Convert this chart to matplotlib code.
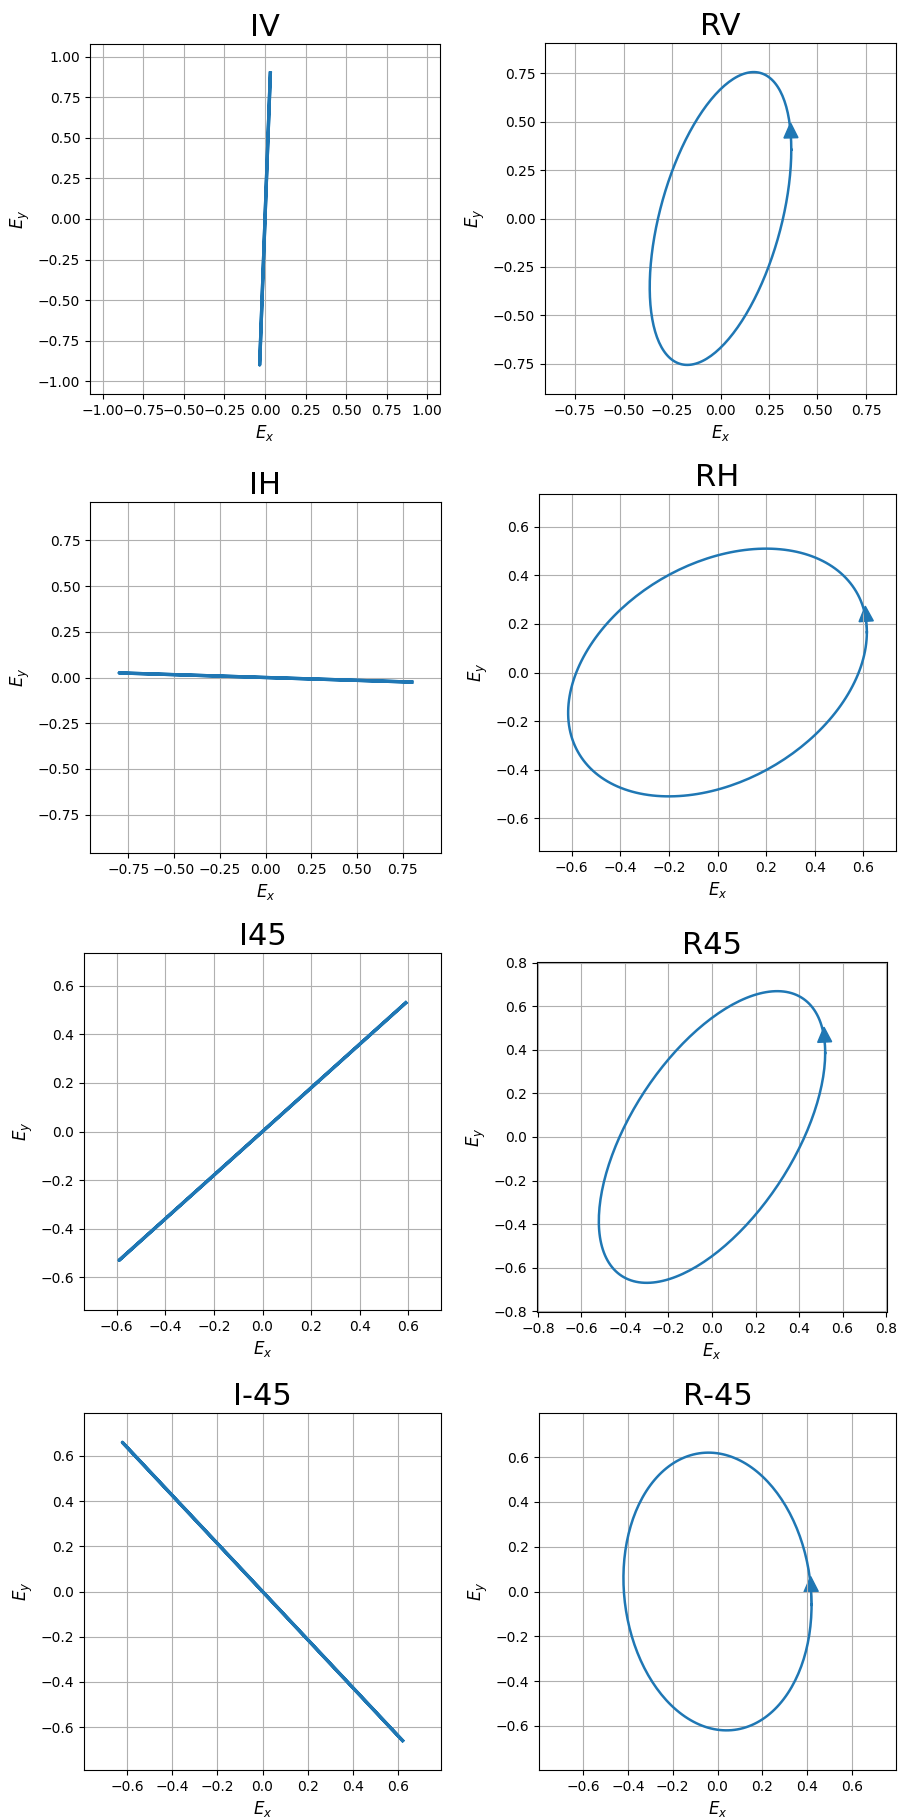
import numpy as np
import matplotlib.pyplot as plt
from matplotlib.ticker import MultipleLocator

# polarization states: amplitudes of Ex, Ey and relative phase (deg)
titles = ['IV', 'RV', 'IH', 'RH', 'I45', 'R45', 'I-45', 'R-45']
amp_x = [0.033, 0.365, 0.80, 0.615, 0.59, 0.52, 0.62, 0.42]
amp_y = [0.90, 0.755, 0.025, 0.51, 0.53, 0.67, 0.66, 0.62]
phase_deg = [0, 62, 180, 71, 0, 54.8, 180, 95.5]
lims = [1.08, 0.905, 0.96, 0.735, 0.735, 0.804, 0.79, 0.797]
tick_step = [0.25, 0.25, 0.25, 0.2, 0.2, 0.2, 0.2, 0.2]

# axes boxes in pixels: left, top, size
boxes = [(90, 44, 350), (545, 43, 351),
         (90, 502, 351), (539, 494, 357),
         (84, 953, 357), (537, 962, 350),
         (84, 1413, 357), (539, 1413, 357)]

W, H = 899, 1818
fig = plt.figure(figsize=(W / 100, H / 100), dpi=100)

t = np.linspace(0, 2 * np.pi, 200)
for i in range(len(titles)):
    left, top, size = boxes[i]
    ax = fig.add_axes([left / W, 1 - (top + size) / H, size / W, size / H])
    d = np.deg2rad(phase_deg[i])
    ex = amp_x[i] * np.cos(t)
    ey = amp_y[i] * np.cos(t - d)
    elliptic = abs(np.sin(d)) > 0.1
    ax.plot(ex, ey, color='C0', lw=1.8 if elliptic else 2.4)
    if elliptic:
        lim = lims[i]
        ax.arrow(ex[0], ey[0], ex[3] - ex[0], ey[3] - ey[0],
                 head_width=0.08 * lim, head_length=0.085 * lim,
                 fc='C0', ec='C0', lw=1)
    ax.set_xlim(-lims[i], lims[i])
    ax.set_ylim(-lims[i], lims[i])
    ax.xaxis.set_major_locator(MultipleLocator(tick_step[i]))
    ax.yaxis.set_major_locator(MultipleLocator(tick_step[i]))
    ax.grid(True)
    ax.set_title(titles[i], fontsize=22)
    ax.set_xlabel('$E_x$', fontsize=12)
    ax.set_ylabel('$E_y$', fontsize=12)

fig.savefig('out.png', dpi=100)
